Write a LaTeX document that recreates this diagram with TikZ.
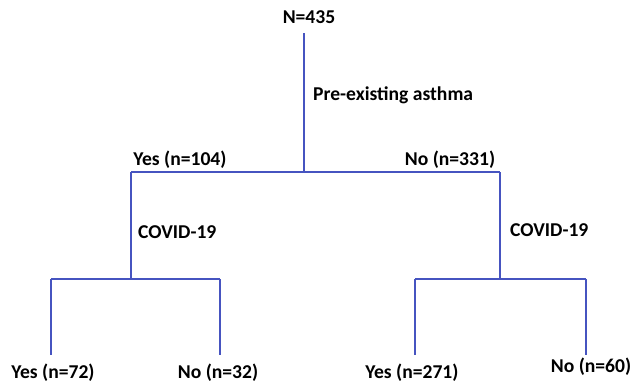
\documentclass[tikz,border=0pt]{standalone}
\usepackage{fontspec}
\setmainfont{Carlito}
\usetikzlibrary{positioning}
\definecolor{treeblue}{RGB}{70,84,192}

\begin{document}
\begin{tikzpicture}[
    x=1pt, y=-1pt,
    lbl/.style={inner sep=0pt, font=\fontsize{19.6}{23}\selectfont\bfseries},
    branch/.style={draw=treeblue, line width=1.6pt},
]
    \useasboundingbox (0,0) rectangle (633,384);

    % counts
    \node[lbl] (root) at (309,17) {N=435};
    \node[lbl] (yes1) at (180,160) {Yes (n=104)};
    \node[lbl] (no1) at (450,160) {No (n=331)};
    \node[lbl] (yes2) at (53,373) {Yes (n=72)};
    \node[lbl] (no2) at (218,373) {No (n=32)};
    \node[lbl] (yes3) at (412,373) {Yes (n=271)};
    \node[lbl] (no3) at (591,367) {No (n=60)};

    % split labels
    \node[lbl, anchor=west] (asthma) at (313,95) {Pre-existing asthma};
    \node[lbl, anchor=west] (covidL) at (138,232) {COVID-19};
    \node[lbl, anchor=west] (covidR) at (510,230) {COVID-19};

    % junctions
    \coordinate (top) at (304,33);
    \coordinate (s0) at (304,172);
    \coordinate (sL) at (131,172);
    \coordinate (sR) at (500,172);
    \coordinate (jL) at (131,279);
    \coordinate (jR) at (500,279);
    \coordinate (aL) at (51,279);
    \coordinate (bL) at (220,279);
    \coordinate (aR) at (415,279);
    \coordinate (bR) at (586,279);
    \coordinate (eA) at (51,355);
    \coordinate (eB) at (220,355);
    \coordinate (eC) at (415,355);
    \coordinate (eD) at (586,355);

    \draw[branch] (top) -- (s0);
    \draw[branch] (sL) -- (sR);
    \draw[branch] (sL) -- (jL);
    \draw[branch] (sR) -- (jR);
    \draw[branch] (aL) -- (bL);
    \draw[branch] (aR) -- (bR);
    \draw[branch] (aL) -- (eA);
    \draw[branch] (bL) -- (eB);
    \draw[branch] (aR) -- (eC);
    \draw[branch] (bR) -- (eD);
\end{tikzpicture}
\end{document}
